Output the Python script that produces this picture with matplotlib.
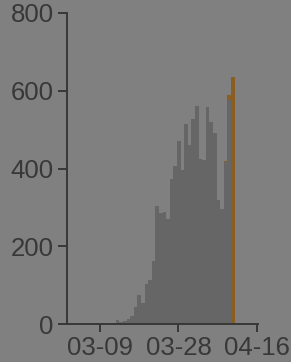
import matplotlib
matplotlib.use("Agg")
from matplotlib import pyplot as plt
import numpy as np

# daily counts (gray bars) and the highlighted series (orange)
counts = [3, 1, 2, 2, 3, 2, 3, 2, 0, 10, 5, 8, 12, 20, 45, 75, 55, 103, 113, 163,
          304, 285, 289, 270, 373, 406, 471, 396, 514, 460, 527, 561, 424, 422,
          558, 520, 491, 319, 296, 416, 576, 0]
highlight = [0]*39 + [420, 589, 635]
tickLabels = ["03-09", "03-28", "04-16"]
tickPos = [4.22, 25.9, 47.6]

bg = "#808080"
barColor = "#666666"
orange = "#8a5d22"
ink = "#383838"

plt.rcParams['font.family'] = ['Liberation Sans', 'DejaVu Sans']

fig = plt.figure(figsize=(2.91, 3.62), dpi=100, facecolor=bg)
ax = fig.add_axes([67/291, 38/362, 191/291, 311/362], facecolor=bg)

x = np.arange(len(counts))
ax.bar(x, highlight, width=1.0, color=orange, linewidth=0)
ax.bar(x, counts, width=1.0, color=barColor, linewidth=0)

ax.set_xlim(-5.06, 48.0)
ax.set_ylim(0, 800)
ax.set_yticks([0, 200, 400, 600, 800])
ax.set_xticks(tickPos)
ax.set_xticklabels(tickLabels)

for s in ["top", "right"]:
    ax.spines[s].set_visible(False)
for s in ["left", "bottom"]:
    ax.spines[s].set_color(ink)
    ax.spines[s].set_linewidth(1.4)

ax.tick_params(axis="y", length=6.5, width=1.4, color=ink, labelcolor=ink, labelsize=18.5, pad=3)
ax.tick_params(axis="x", length=5.8, width=1.4, color=ink, labelcolor=ink, labelsize=18.5, pad=3)

fig.savefig("out.png", dpi=100, facecolor=bg)
